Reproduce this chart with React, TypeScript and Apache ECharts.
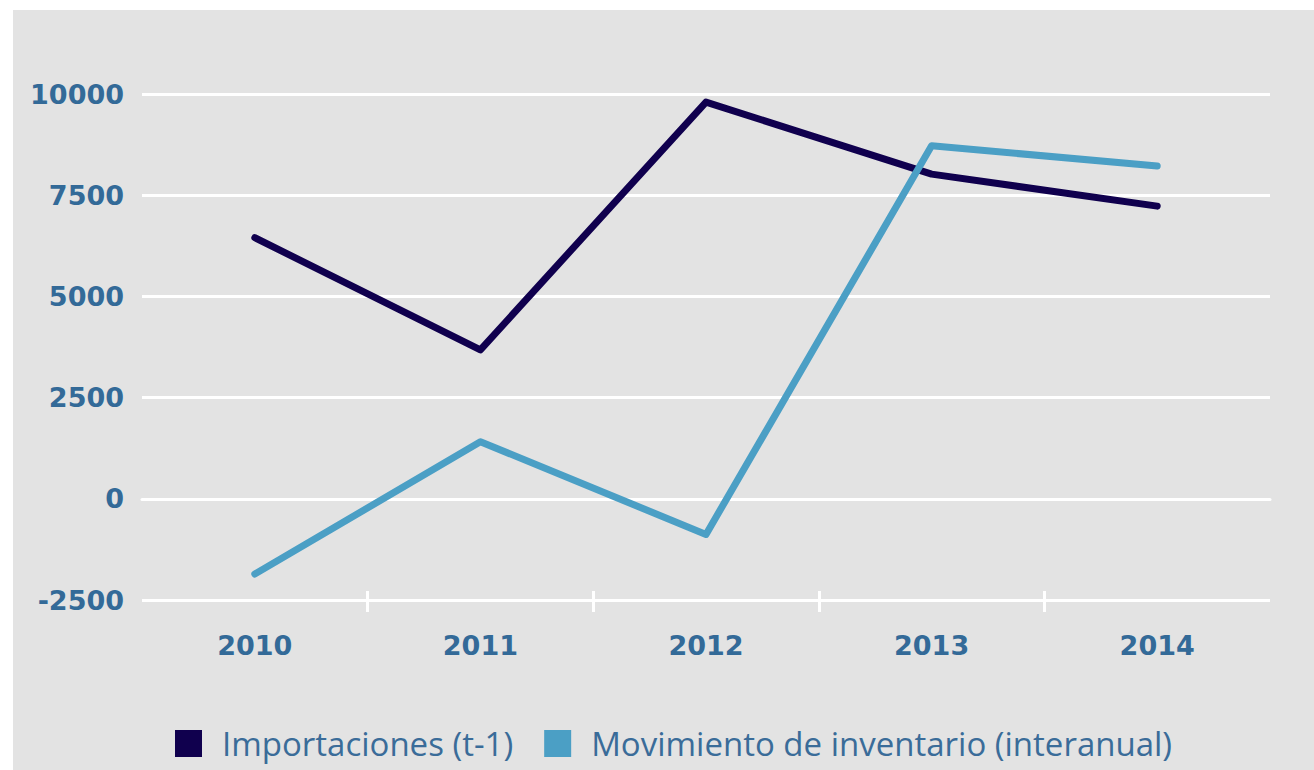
import React, { useEffect, useRef } from "react";
import * as echarts from "echarts";

const years = ["2010", "2011", "2012", "2013", "2014"];
const importaciones = [6450, 3680, 9800, 8020, 7230];
const movimiento = [-1860, 1410, -880, 8720, 8220];
const seriesNames = ["Importaciones (t-1)", "Movimiento de inventario (interanual)"];
const bandEdges = [2, 4, 6, 8];

const NAVY = "#10004e";
const BLUE = "#4b9fc5";
const LABEL = "#336a98";
const LEGEND_TEXT = "#3a6c99";

export default function App() {
  const ref = useRef<HTMLDivElement>(null);
  useEffect(() => {
    if (!ref.current) return;
    const chart = echarts.init(ref.current, null, { renderer: "svg" });
    chart.setOption({
      animation: false,
      backgroundColor: "#e3e3e3",
      grid: { left: 129, right: 44, top: 84, bottom: 170, containLabel: false },
      legend: {
        left: 157,
        top: 712,
        itemWidth: 27,
        itemHeight: 27,
        itemGap: 31,
        icon: "rect",
        data: seriesNames,
        textStyle: {
          fontFamily: "Open Sans",
          fontSize: 33,
          color: LEGEND_TEXT,
          padding: [0, 0, 0, 15],
        },
      },
      xAxis: [
        {
          type: "category",
          data: years,
          boundaryGap: true,
          position: "bottom",
          axisLine: { show: true, lineStyle: { color: "#ffffff", width: 3 } },
          axisTick: { show: false },
          axisLabel: {
            margin: 32,
            color: LABEL,
            fontFamily: "DejaVu Sans",
            fontWeight: "bold",
            fontSize: 27,
          },
          splitLine: { show: false },
        },
        {
          type: "value",
          min: 0,
          max: 10,
          interval: 2,
          position: "bottom",
          offset: -9,
          axisLine: { show: false },
          axisLabel: { show: false },
          splitLine: { show: false },
          axisTick: {
            show: true,
            customValues: bandEdges,
            length: 21,
            lineStyle: { color: "#ffffff", width: 3 },
          },
        },
      ],
      yAxis: {
        type: "value",
        min: -2500,
        max: 10000,
        interval: 2500,
        axisLine: { show: false },
        axisTick: { show: false },
        axisLabel: {
          margin: 18,
          color: LABEL,
          fontFamily: "DejaVu Sans",
          fontWeight: "bold",
          fontSize: 27,
          formatter: (v: number) => String(v),
        },
        splitLine: { show: true, lineStyle: { color: "#ffffff", width: 3 } },
      },
      series: [
        {
          name: seriesNames[0],
          type: "line",
          xAxisIndex: 0,
          data: importaciones,
          symbol: "none",
          color: NAVY,
          lineStyle: { color: NAVY, width: 7, cap: "round", join: "round" },
        },
        {
          name: seriesNames[1],
          type: "line",
          xAxisIndex: 0,
          data: movimiento,
          symbol: "none",
          color: BLUE,
          lineStyle: { color: BLUE, width: 7, cap: "round", join: "round" },
        },
      ],
    });
    return () => chart.dispose();
  }, []);
  return (
    <div
      ref={ref}
      style={{ position: "absolute", left: 13, top: 10, width: 1301, height: 760 }}
    />
  );
}
